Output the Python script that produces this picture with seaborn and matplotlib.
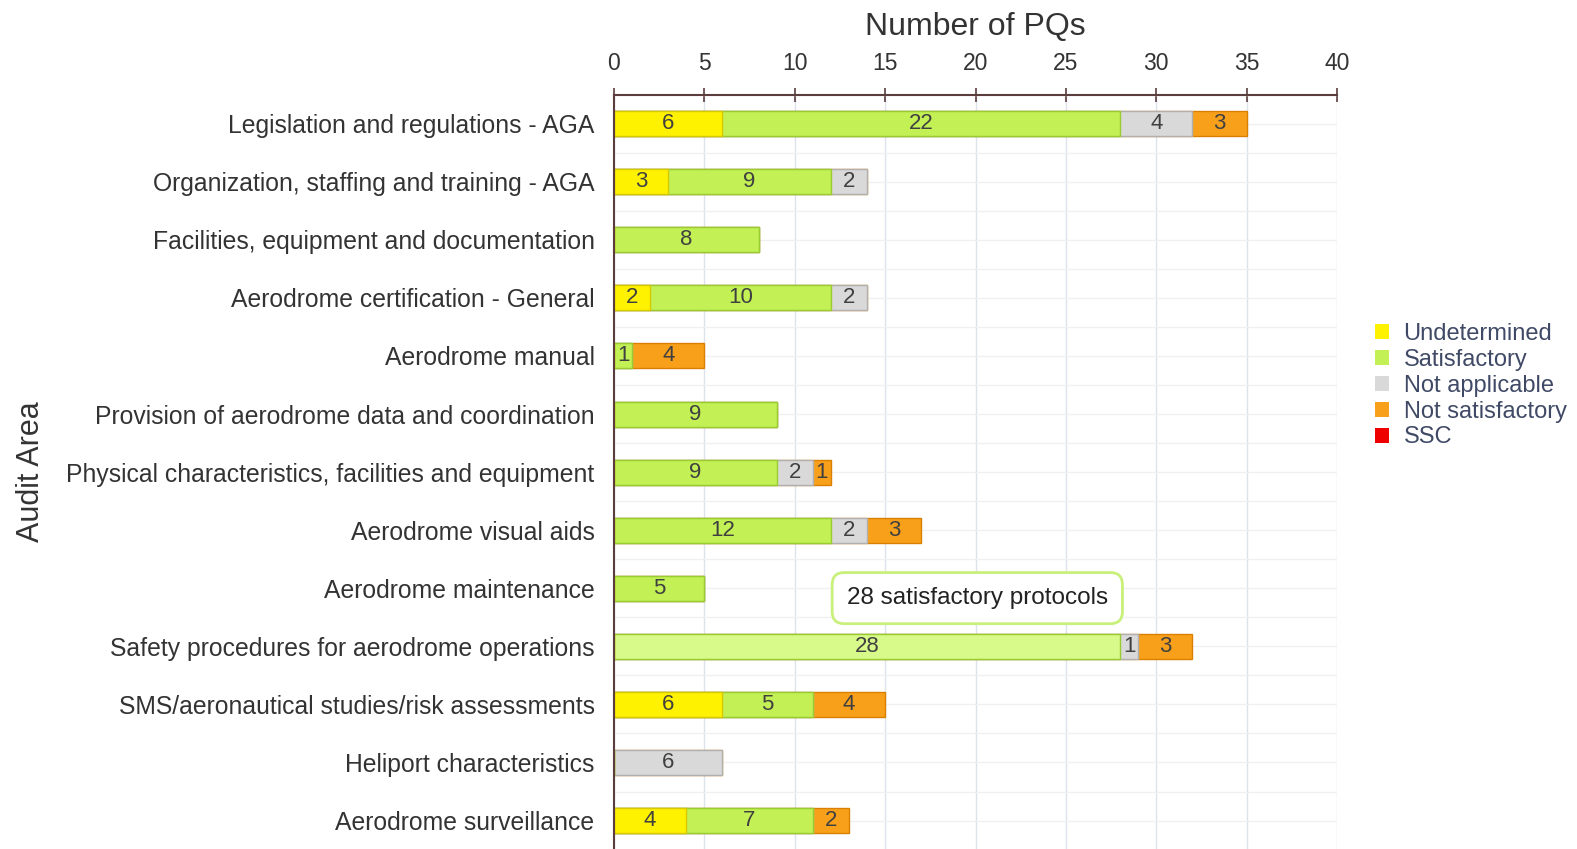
import matplotlib
matplotlib.use("Agg")
import matplotlib.pyplot as plt
from matplotlib.patches import Patch
import numpy as np
import pandas as pd
import seaborn as sns

sns.set_theme(style="white")
plt.rcParams["font.family"] = ["Liberation Sans", "DejaVu Sans"]

categories = [
    "Legislation and regulations - AGA",
    "Organization, staffing and training - AGA",
    "Facilities, equipment and documentation",
    "Aerodrome certification - General",
    "Aerodrome manual",
    "Provision of aerodrome data and coordination",
    "Physical characteristics, facilities and equipment",
    "Aerodrome visual aids",
    "Aerodrome maintenance",
    "Safety procedures for aerodrome operations",
    "SMS/aeronautical studies/risk assessments",
    "Heliport characteristics",
    "Aerodrome surveillance",
]
undetermined = [6, 3, 0, 2, 0, 0, 0, 0, 0, 0, 6, 0, 4]
satisfactory = [22, 9, 8, 10, 1, 9, 9, 12, 5, 28, 5, 0, 7]
not_applicable = [4, 2, 0, 2, 0, 0, 2, 2, 0, 1, 0, 6, 0]
not_satisfactory = [3, 0, 0, 0, 4, 0, 1, 3, 0, 3, 4, 0, 2]
ssc = [0] * 13

series = ["Undetermined", "Satisfactory", "Not applicable", "Not satisfactory", "SSC"]
values = [undetermined, satisfactory, not_applicable, not_satisfactory, ssc]
fills = ["#fff200", "#c2f055", "#d9d9d9", "#f9a01b", "#ee0000"]
edges = ["#d8c800", "#98cc30", "#b0b0b0", "#d98000", "#b00000"]
highlight_row = 9
highlight_fill = "#d8fa8a"

df = pd.DataFrame({"area": categories})
for name, v in zip(series, values):
    df[name] = v
cum = df[series].cumsum(axis=1)

fig = plt.figure(figsize=(15.77, 8.49), dpi=100)
ax = fig.add_axes([614 / 1577, -0.6 / 849, 723 / 1577, 755 / 849])

# stacked bars: draw cumulative totals from the outermost segment inwards
for i in range(len(series) - 2, -1, -1):
    n_before = len(ax.patches)
    sns.barplot(data=cum.assign(area=categories), x=series[i], y="area",
                orient="h", color=fills[i], edgecolor=edges[i], linewidth=1,
                width=0.43, saturation=1, ax=ax)
    if series[i] == "Satisfactory":
        ax.patches[n_before + highlight_row].set_facecolor(highlight_fill)

# value labels centred in each segment
for i, name in enumerate(series):
    left = cum[name] - df[name]
    for r, v in enumerate(df[name]):
        if v > 0:
            ax.text(left[r] + v / 2, r, str(v), ha="center", va="center",
                    fontsize=16, color="#404040")

ax.set_xlim(0, 40)
ax.set_ylim(12.5, -0.5)
ax.xaxis.tick_top()
ax.xaxis.set_label_position("top")
ax.set_xticks(np.arange(0, 41, 5))
ax.set_xlabel("Number of PQs", fontsize=23, color="#333333", labelpad=12)
ax.set_ylabel("Audit Area", fontsize=22, color="#333333")
ax.yaxis.set_label_coords(-0.785, 0.5)

ax.set_yticks(range(len(categories)))
ax.set_yticklabels(categories)
ax.set_yticks(np.arange(-0.5, 13, 1), minor=True)
ax.tick_params(axis="x", which="major", direction="inout", length=10, width=1.2,
               color="#5b3d3d", labelsize=16.5, labelcolor="#333333", pad=9)
ax.tick_params(axis="y", which="major", direction="out", length=3, width=1,
               color="#5b3d3d", labelsize=17.8, labelcolor="#333333", pad=11)
ax.tick_params(axis="y", which="minor", direction="out", length=6, width=1.2,
               color="#5b3d3d")

ax.grid(axis="x", which="major", color="#dce3ec", lw=1)
ax.grid(axis="y", which="both", color="#f0f0f0", lw=1)
ax.set_axisbelow(True)
for s in ["right", "bottom"]:
    ax.spines[s].set_visible(False)
for s in ["top", "left"]:
    ax.spines[s].set_color("#5b3d3d")
    ax.spines[s].set_linewidth(1.5)

# hover tooltip
ax.text(20.1, 8.17, "28 satisfactory protocols", ha="center", va="center",
        fontsize=17.5, color="#222222",
        bbox=dict(boxstyle="round,pad=0.6,rounding_size=0.5", fc="white",
                  ec="#c8f07a", lw=2))

handles = [Patch(facecolor=f, edgecolor="none") for f in fills]
fig.legend(handles, series, loc="upper left", bbox_to_anchor=(1354 / 1577, 1 - 302 / 849),
           frameon=False, fontsize=17, handlelength=0.6, handleheight=0.6,
           handletextpad=0.6, labelspacing=0.16, labelcolor="#404a66")

fig.savefig("out.png", dpi=100)
